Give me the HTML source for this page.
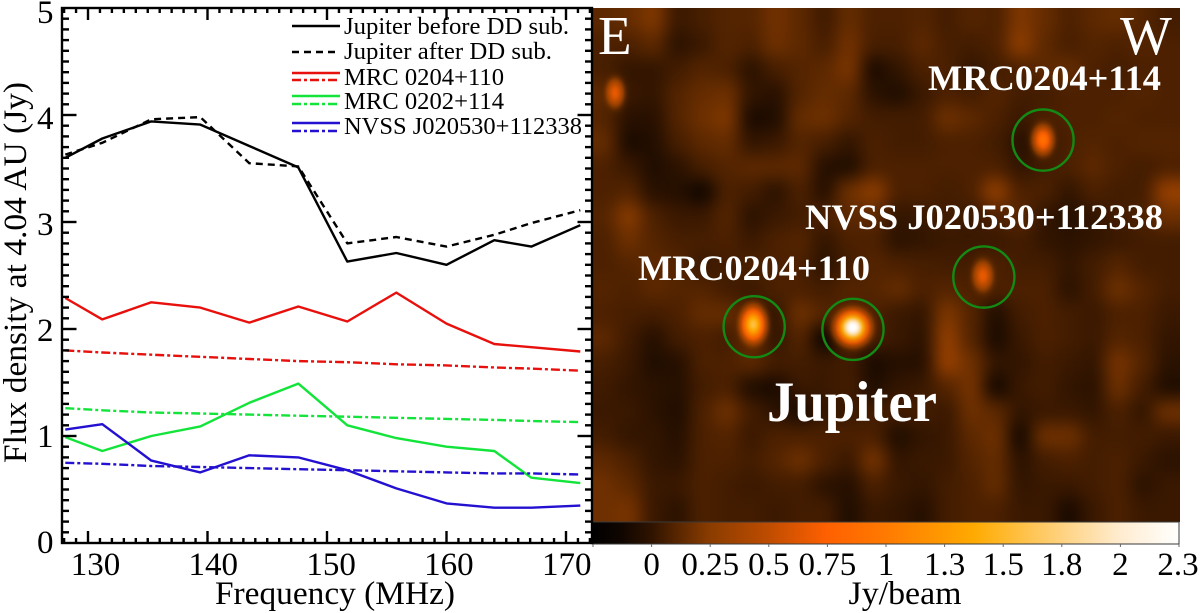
<!DOCTYPE html>
<html lang="en">
<head>
<meta charset="utf-8">
<title>Jupiter flux density and radio map</title>
<style>
html,body{margin:0;padding:0;background:#fff;width:1200px;height:613px;overflow:hidden}
svg{display:block}
text{font-family:"Liberation Serif",serif}
</style>
</head>
<body>
<svg id="fig" xmlns="http://www.w3.org/2000/svg" width="1200" height="613" viewBox="0 0 1200 613">
  <defs>
    <clipPath id="mapClip"><rect x="592" y="8" width="588" height="514"/></clipPath>
    <filter id="mapBlur" filterUnits="userSpaceOnUse" x="500" y="-80" width="780" height="700" color-interpolation-filters="sRGB"><feGaussianBlur stdDeviation="8.5"/></filter>
    <linearGradient id="cbarGrad" x1="0" x2="1" y1="0" y2="0"></linearGradient>
  </defs>
  <rect x="0" y="0" width="1200" height="613" fill="#fff"/>

  <g id="mapPanel" clip-path="url(#mapClip)">
    <rect x="592" y="8" width="588" height="514" fill="#3f1a00"/>
    <g id="mapCells" filter="url(#mapBlur)"></g>
    <g id="mapSources"></g>
  </g>

  <rect x="592" y="522" width="587" height="22" fill="url(#cbarGrad)" stroke="#3a3a3a" stroke-width="1"/>
  <g id="cbarTicks"></g>

  <g id="rings" fill="none" stroke="#138a13" stroke-width="2.4"></g>

  <text x="598" y="54" font-size="55" fill="#fff">E</text>
  <text x="1120" y="54" font-size="55" fill="#fff">W</text>
  <text x="928" y="90" font-size="36" font-weight="bold" fill="#fff" textLength="233" lengthAdjust="spacingAndGlyphs">MRC0204+114</text>
  <text x="805" y="229" font-size="36" font-weight="bold" fill="#fff" textLength="358" lengthAdjust="spacingAndGlyphs">NVSS J020530+112338</text>
  <text x="638" y="280" font-size="36" font-weight="bold" fill="#fff" textLength="232" lengthAdjust="spacingAndGlyphs">MRC0204+110</text>
  <text x="767" y="421" font-size="57" font-weight="bold" fill="#fff" textLength="170" lengthAdjust="spacingAndGlyphs">Jupiter</text>

  <g id="series" fill="none" stroke-width="2.4" stroke-linejoin="round"></g>
  <g id="axes" stroke="#000" stroke-width="2.4" fill="none"></g>
  <rect x="62" y="8" width="530" height="535" fill="none" stroke="#000" stroke-width="2.4"/>
  <g id="tickLabels" font-size="33" fill="#000"></g>

  <text x="335" y="604" font-size="33" text-anchor="middle" textLength="240" lengthAdjust="spacingAndGlyphs">Frequency (MHz)</text>
  <text transform="translate(26 272.5) rotate(-90)" font-size="33" text-anchor="middle" textLength="381" lengthAdjust="spacingAndGlyphs">Flux density at 4.04 AU (Jy)</text>
  <text x="905" y="604" font-size="33" text-anchor="middle" textLength="113" lengthAdjust="spacingAndGlyphs">Jy/beam</text>

  <g>
    <g>
      <line x1="292" x2="340" y1="26" y2="26" stroke="#000" stroke-width="2.4"/>
      <text x="344" y="34" font-size="24.5" textLength="225" lengthAdjust="spacingAndGlyphs">Jupiter before DD sub.</text>
    </g>
    <g>
      <line x1="292" x2="340" y1="52" y2="52" stroke="#000" stroke-width="2.4" stroke-dasharray="7 5"/>
      <text x="344" y="59" font-size="24.5" textLength="208" lengthAdjust="spacingAndGlyphs">Jupiter after DD sub.</text>
    </g>
    <g>
      <line x1="292" x2="340" y1="73" y2="73" stroke="#e8100c" stroke-width="2.4"/>
      <line x1="292" x2="340" y1="80" y2="80" stroke="#e8100c" stroke-width="2.4" stroke-dasharray="9 3 3 3"/>
      <text x="344" y="85" font-size="24.5" textLength="160" lengthAdjust="spacingAndGlyphs">MRC 0204+110</text>
    </g>
    <g>
      <line x1="292" x2="340" y1="96" y2="96" stroke="#12e43a" stroke-width="2.4"/>
      <line x1="292" x2="340" y1="104" y2="104" stroke="#12e43a" stroke-width="2.4" stroke-dasharray="9 3 3 3"/>
      <text x="344" y="109" font-size="24.5" textLength="160" lengthAdjust="spacingAndGlyphs">MRC 0202+114</text>
    </g>
    <g>
      <line x1="292" x2="340" y1="123" y2="123" stroke="#2410d0" stroke-width="2.4"/>
      <line x1="292" x2="340" y1="131" y2="131" stroke="#2410d0" stroke-width="2.4" stroke-dasharray="9 3 3 3"/>
      <text x="344" y="134" font-size="24.5" textLength="238" lengthAdjust="spacingAndGlyphs">NVSS J020530+112338</text>
    </g>
  </g>
</svg>

<script>
const frequencies = [128.1,131.2,135.3,139.4,143.5,147.6,151.7,155.8,160,164,167.1,171.2];
const jupiterBefore = [3.60,3.78,3.94,3.91,3.71,3.51,2.63,2.71,2.60,2.83,2.77,2.97];
const jupiterAfter = [3.63,3.74,3.96,3.98,3.55,3.52,2.80,2.86,2.77,2.88,2.99,3.11];
const mrc110Measured = [2.29,2.09,2.25,2.20,2.06,2.21,2.07,2.34,2.05,1.86,1.83,1.79];
const mrc110Model = [1.80,1.78,1.76,1.74,1.72,1.70,1.69,1.67,1.66,1.64,1.63,1.61];
const mrc114Measured = [0.99,0.86,1.00,1.09,1.31,1.49,1.10,0.98,0.90,0.86,0.61,0.56];
const mrc114Model = [1.26,1.24,1.22,1.21,1.20,1.19,1.18,1.17,1.16,1.15,1.14,1.13];
const nvssMeasured = [1.06,1.11,0.77,0.66,0.82,0.80,0.68,0.51,0.37,0.33,0.33,0.35];
const nvssModel = [0.75,0.74,0.72,0.71,0.70,0.69,0.68,0.67,0.66,0.65,0.65,0.64];

const xTickValues = [130,140,150,160,170];
const yTickValues = [0,1,2,3,4,5];
const colorbarTickLabels = ["","0","0.25","0.5","0.75","1","1.3","1.5","1.8","2","2.3"];

/* Sky map brightness, in 0.01 Jy/beam */
const mapRows = [
[10,12,18,2,5,8,8,15,10,3,12,6,6,8,4,8,6,18,12,6,10,12,8,4],
[6,6,10,-2,2,8,6,14,10,5,15,5,5,10,5,4,6,22,10,5,8,6,8,6],
[5,0,0,4,8,6,-2,5,8,10,17,-8,0,6,6,0,4,6,10,12,6,4,6,6],
[10,2,0,8,12,14,0,-3,8,12,10,-2,-6,2,6,4,8,4,4,6,6,6,8,6],
[8,-3,-3,8,14,18,-8,-6,12,14,8,4,4,4,14,10,6,2,6,6,6,8,6,6],
[12,-8,-5,5,10,12,0,2,8,5,0,6,4,4,6,6,4,-3,0,6,8,6,8,8],
[6,2,-6,-2,5,8,10,10,10,-4,-6,6,6,6,6,6,6,0,4,6,10,6,4,6],
[6,8,-3,-4,-12,6,4,-2,6,-4,14,22,6,6,4,6,24,6,6,0,6,4,4,26],
[8,20,6,2,2,8,-2,2,4,6,10,10,0,2,4,2,6,10,0,-4,0,4,6,14],
[6,14,8,5,5,6,2,6,8,0,6,6,-2,0,2,2,2,4,0,-2,0,2,4,4],
[6,8,10,8,2,4,6,6,6,-2,4,8,6,5,4,4,6,4,4,0,4,8,4,4],
[8,6,10,8,8,4,2,6,6,4,8,8,12,6,8,6,6,6,6,-2,4,14,8,4],
[6,5,4,6,12,12,6,0,14,8,6,6,2,0,18,8,-6,4,6,4,2,6,6,2],
[10,3,-4,4,6,4,10,0,8,-16,4,4,2,-2,24,8,-8,2,6,4,2,8,6,0],
[5,2,-6,-4,6,6,10,4,4,2,4,-8,-4,-4,26,14,0,0,4,2,0,16,8,-2],
[3,0,-2,-4,4,6,-6,-8,2,2,4,-6,0,2,8,16,-10,2,4,0,-2,14,4,-6],
[2,2,-2,-6,6,14,4,-2,-8,0,2,4,4,4,2,14,10,0,2,2,0,6,0,14],
[4,0,0,-4,6,8,2,6,6,6,6,6,-6,0,2,10,14,-10,14,14,4,4,4,2],
[10,6,0,-2,6,6,4,8,14,6,2,16,0,2,2,8,12,-2,4,6,4,6,2,-2],
[14,10,2,2,6,4,2,4,4,-2,-4,6,2,0,4,6,12,0,2,2,4,6,-2,2],
[14,16,2,-2,6,4,4,2,4,4,-6,2,0,-4,4,6,6,2,2,-8,2,6,2,2]
];
const mapZeroOffset = 0.01;
const mapGain = 1.2;

/* Compact sources: peak brightness (Jy/beam), map-grid location, beam widths in grid units */
const sourceNames = ["jupiter","mrc0204-110","mrc0204-114","nvss-j020530","east-source"];
const sourcePeak = [2.3,1.55,0.85,0.62,0.62];
const sourceCol = [10.66,6.59,18.44,15.98,0.94];
const sourceRow = [13.06,12.94,5.39,10.95,3.47];
const sourceWidthCol = [0.42,0.33,0.3,0.3,0.27];
const sourceWidthRow = [0.42,0.47,0.42,0.45,0.42];
/* Catalogue rings drawn around the four identified sources */
const ringCol = [10.67,6.63,18.44,16.02];
const ringRow = [13.14,13.03,5.4,11.0];
const ringRadius = [1.25,1.25,1.25,1.25];

const SVGNS = "http://www.w3.org/2000/svg";
const xScale = f => 88 + (f - 130) * 11.95;
const yScale = v => 543 - v * 107;
const xLabelScale = f => 95.5 + (f - 130) * 11.78;
const mapX = c => 592 + c * 24.46;
const mapY = r => 8 + r * 24.46;
const cbarT = v => 0.1 + v * 0.9 / 2.3;

const cmapPos = [0,0.05,0.1,0.2,0.3,0.4,0.5,0.6,0.65,0.7,0.8,0.9,1];
const cmapR = [0,16,46,138,190,255,255,255,255,255,255,255,255];
const cmapG = [0,6,19,60,76,96,122,154,170,184,210,236,255];
const cmapB = [0,0,0,0,0,0,0,0,0,42,128,208,255];

function colorAt(t){
  t = Math.max(0, Math.min(1, t));
  let i = 0;
  while (i < cmapPos.length - 2 && t > cmapPos[i + 1]) i++;
  const k = (t - cmapPos[i]) / (cmapPos[i + 1] - cmapPos[i]);
  const mix = a => Math.round(a[i] + (a[i + 1] - a[i]) * k);
  return "rgb(" + mix(cmapR) + "," + mix(cmapG) + "," + mix(cmapB) + ")";
}
function make(tag, parent, attrs){
  const el = document.createElementNS(SVGNS, tag);
  for (const key in attrs) el.setAttribute(key, attrs[key]);
  parent.appendChild(el);
  return el;
}

/* Colorbar gradient */
const grad = document.getElementById("cbarGrad");
cmapPos.forEach((p, i) => {
  make("stop", grad, {offset: p, "stop-color": colorAt(p)});
});

/* Map cells */
const cellGroup = document.getElementById("mapCells");
mapRows.forEach((row, r) => {
  row.forEach((val, c) => {
    const x0 = c === 0 ? mapX(c) - 40 : mapX(c);
    const x1 = c === row.length - 1 ? mapX(c + 1) + 40 : mapX(c + 1);
    const y0 = r === 0 ? mapY(r) - 40 : mapY(r);
    const y1 = r === mapRows.length - 1 ? mapY(r + 1) + 40 : mapY(r + 1);
    const cell = make("rect", cellGroup, {x: x0, y: y0, width: x1 - x0 + 0.5, height: y1 - y0 + 0.5, fill: colorAt(cbarT(val * mapGain / 100 + mapZeroOffset))});
    
    
  });
});

/* Compact sources as gaussian radial gradients */
const defs = document.querySelector("defs");
const sourceGroup = document.getElementById("mapSources");
sourcePeak.forEach((peak, i) => {
  const g = make("radialGradient", defs, {id: "srcGrad" + i});
  for (let s = 0; s <= 12; s++) {
    const r = s / 12;
    const v = peak * Math.exp(-(r * 3) * (r * 3) / 2);
    const a = Math.min(1, v / 0.3) * (1 - r * r * r);
    make("stop", g, {offset: r, "stop-color": colorAt(cbarT(v + 0.06)), "stop-opacity": a.toFixed(3)});
  }
  const src = make("ellipse", sourceGroup, {
    cx: mapX(sourceCol[i]), cy: mapY(sourceRow[i]),
    rx: sourceWidthCol[i] * 3 * 24.46, ry: sourceWidthRow[i] * 3 * 24.46,
    fill: "url(#srcGrad" + i + ")"
  });
  
  
});

/* Rings */
const ringGroup = document.getElementById("rings");
ringCol.forEach((c, i) => {
  const ring = make("circle", ringGroup, {cx: mapX(c), cy: mapY(ringRow[i]), r: ringRadius[i] * 24.46});
  
  
});

/* Series */
const seriesGroup = document.getElementById("series");
function drawSeries(values, color, dash, name){
  const pts = values.map((v, i) => xScale(frequencies[i]).toFixed(1) + "," + yScale(v).toFixed(1)).join(" ");
  const line = make("polyline", seriesGroup, {points: pts, stroke: color});
  if (dash) line.setAttribute("stroke-dasharray", dash);
  
  
}
drawSeries(jupiterBefore, "#000", null, "line-jupiter-before");
drawSeries(jupiterAfter, "#000", "7 5", "line-jupiter-after");
drawSeries(mrc110Measured, "#e8100c", null, "line-mrc-0204-110");
drawSeries(mrc110Model, "#e8100c", "9 3 3 3", "line-mrc-0204-110-model");
drawSeries(mrc114Measured, "#12e43a", null, "line-mrc-0202-114");
drawSeries(mrc114Model, "#12e43a", "9 3 3 3", "line-mrc-0202-114-model");
drawSeries(nvssMeasured, "#2410d0", null, "line-nvss");
drawSeries(nvssModel, "#2410d0", "9 3 3 3", "line-nvss-model");

/* Axis ticks */
const axes = document.getElementById("axes");
function tick(x1, y1, x2, y2, name){
  const t = make("line", axes, {x1: x1, y1: y1, x2: x2, y2: y2});
  
  
}
for (let f = 128; f <= 172; f++) {
  const major = xTickValues.indexOf(f) >= 0;
  const len = major ? 12 : 5;
  tick(xScale(f), 543, xScale(f), 543 - len, major ? "x-major-tick" : "x-minor-tick");
  tick(xScale(f), 8, xScale(f), 8 + len, major ? "x-top-major-tick" : "x-top-minor-tick");
}
for (let n = 1; n < 50; n++) {
  const v = n / 10;
  const major = n % 10 === 0;
  const len = major ? 14.5 : 7;
  tick(62, yScale(v), 62 + len, yScale(v), major ? "y-major-tick" : "y-minor-tick");
  tick(592, yScale(v), 592 - len, yScale(v), major ? "y-right-major-tick" : "y-right-minor-tick");
}

/* Tick labels */
const labels = document.getElementById("tickLabels");
xTickValues.forEach(f => {
  const t = make("text", labels, {x: xLabelScale(f), y: 575, "text-anchor": "middle"});
  t.textContent = f;
  
  
});
yTickValues.forEach(v => {
  const t = make("text", labels, {x: 53.5, y: yScale(v) + 10 + v, "text-anchor": "end"});
  t.textContent = v;
  
  
});

/* Colorbar ticks and labels */
const cbarTicks = document.getElementById("cbarTicks");
colorbarTickLabels.forEach((label, i) => {
  const x = 593 + i * 58.6;
  const t = make("line", cbarTicks, {x1: x, x2: x, y1: 544, y2: 547, stroke: "#666", "stroke-width": 1});
  
  
  if (label) {
    const txt = make("text", labels, {x: Math.min(x, 1178), y: 575, "text-anchor": "middle"});
    txt.textContent = label;
    
    
  }
});
</script>
</body>
</html>
